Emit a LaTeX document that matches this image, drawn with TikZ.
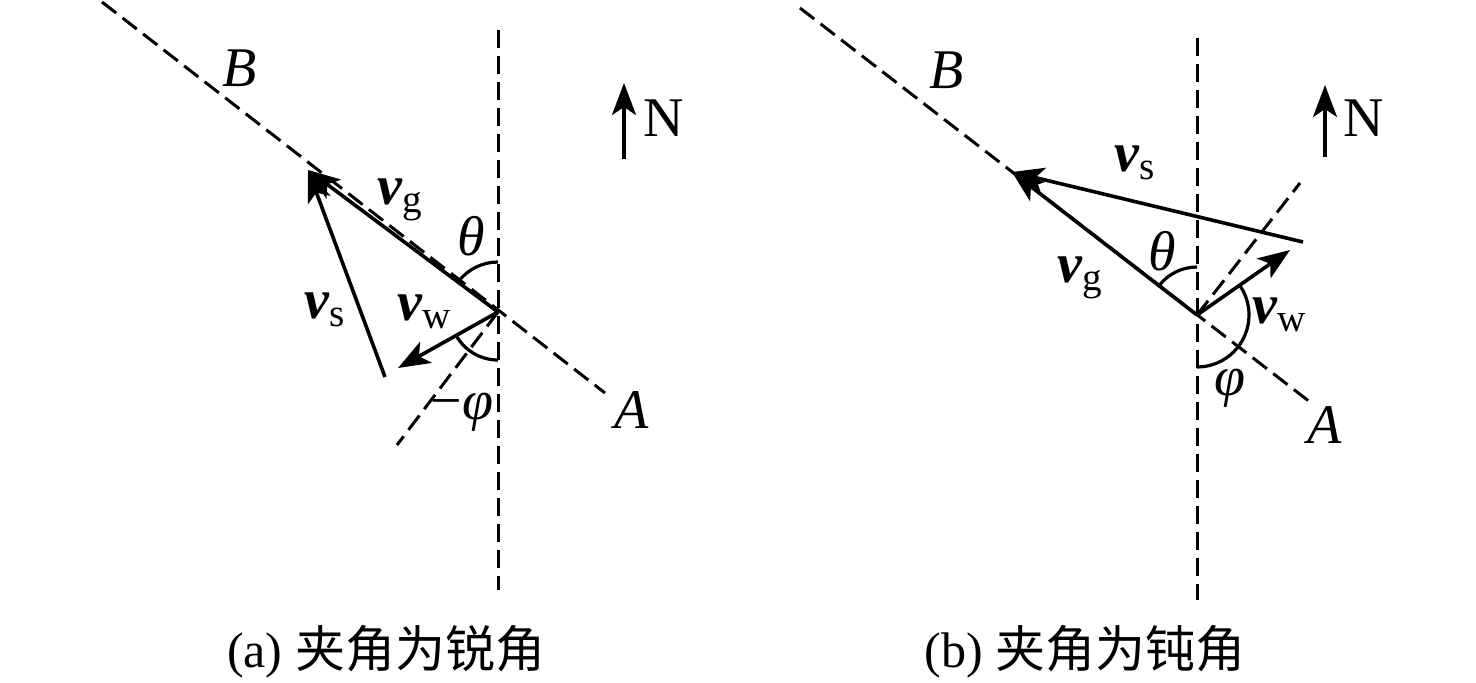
\documentclass[tikz,border=0pt]{standalone}
\usepackage{fontspec}
\setmainfont{Liberation Serif}
\newfontfamily\cjk{Noto Sans CJK SC}
\usetikzlibrary{arrows.meta}
\tikzstyle{axis}=[dash pattern=on 9pt off 4pt,line width=1.5pt]
\tikzstyle{vec}=[line width=1.8pt,-{Stealth[length=16pt,width=12pt,inset=4pt]}]
\tikzstyle{angarc}=[line width=1.6pt]
\tikzstyle{lbl}=[font=\fontsize{28}{32}\selectfont\itshape,inner sep=0pt]
\tikzstyle{caption}=[font=\fontsize{25}{30}\selectfont,inner sep=0pt]
\newcommand{\vecv}[1]{{\bfseries\itshape v}\textsubscript{\upshape\mdseries #1}}

\begin{document}
\begin{tikzpicture}[x=0.5pt,y=-0.5pt]
\useasboundingbox (0,0) rectangle (1476,682);

%(a)
    \coordinate (O1) at (498,312);
    \coordinate (G1) at (308,170);
    \coordinate (S1) at (385,377);
    \coordinate (W1) at (398,368);
    \coordinate (Nt1) at (498,30);
    \coordinate (Nb1) at (498,590);
    \coordinate (Bt1) at (102,2);
    \coordinate (Ab1) at (605,393);
    \coordinate (F1) at (397,445);

    \draw[axis] (Nt1) -- (Nb1);
    \draw[axis] (Bt1) -- (Ab1);
    \draw[axis] (O1) -- (F1);
    \draw[vec] (O1) -- (G1);
    \draw[vec] (S1) -- (G1);
    \draw[vec] (O1) -- (W1);
    % y points down, so angles are negated
    \draw[angarc] (O1) ++(-90:50) arc (-90:-143:50);
    \draw[angarc] (O1) ++(-209:48) arc (-209:-270:48);

    \foreach \pos/\name/\text in {{(240,68)/B1/B}, {(632,410)/A1/A}, {(471,236)/th1/θ},
      {(400,200)/vg1/\vecv{g}}, {(325,310)/vs1/\vecv{s}},
      {(425,312)/vw1/\vecv{w}}, {(462,412)/ph1/{\upshape −}φ}}
        \node[lbl] (\name) at \pos {\text};

    \coordinate (Na1) at (624,159);
    \coordinate (Nc1) at (624,83);
    \draw[vec] (Na1) -- (Nc1);
    \node[lbl,anchor=west] (N1) at (643,118) {\upshape N};
    \node[caption] (cap1) at (386,652) {(a) {\cjk 夹角为锐角}};

%(b)
    \coordinate (O2) at (1197,315);
    \coordinate (G2) at (1012,172);
    \coordinate (S2) at (1303,242);
    \coordinate (W2) at (1290,250);
    \coordinate (Nt2) at (1197,38);
    \coordinate (Nb2) at (1197,600);
    \coordinate (Bt2) at (800,8);
    \coordinate (Ab2) at (1310,402);
    \coordinate (F2) at (1300,183);

    \draw[axis] (Nt2) -- (Nb2);
    \draw[axis] (Bt2) -- (Ab2);
    \draw[axis] (O2) -- (F2);
    \draw[vec] (O2) -- (G2);
    \draw[vec] (S2) -- (G2);
    \draw[vec] (O2) -- (W2);
    \draw[angarc] (O2) ++(-90:48) arc (-90:-142:48);
    \draw[angarc] (O2) ++(90:52) arc (90:-35:52);

    \foreach \pos/\name/\text in {{(947,70)/B2/B}, {(1325,425)/A2/A}, {(1162,251)/th2/θ},
      {(1080,278)/vg2/\vecv{g}}, {(1135,163)/vs2/\vecv{s}},
      {(1280,315)/vw2/\vecv{w}}, {(1230,388)/ph2/φ}}
        \node[lbl] (\name) at \pos {\text};

    \coordinate (Na2) at (1325,157);
    \coordinate (Nc2) at (1325,85);
    \draw[vec] (Na2) -- (Nc2);
    \node[lbl,anchor=west] (N2) at (1343,118) {\upshape N};
    \node[caption] (cap2) at (1085,652) {(b) {\cjk 夹角为钝角}};

\end{tikzpicture}
\end{document}
